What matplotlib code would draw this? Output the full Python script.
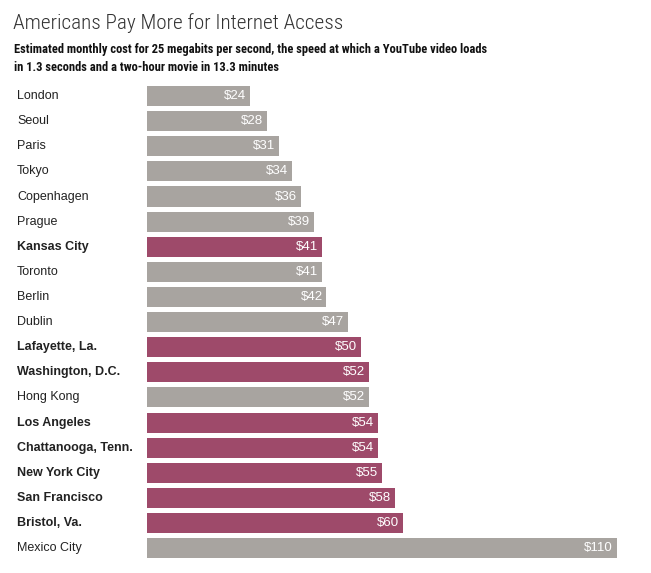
import matplotlib
matplotlib.use("Agg")
import matplotlib.pyplot as plt
import matplotlib.transforms as mtransforms

cities = ["London", "Seoul", "Paris", "Tokyo", "Copenhagen", "Prague",
          "Kansas City", "Toronto", "Berlin", "Dublin", "Lafayette, La.",
          "Washington, D.C.", "Hong Kong", "Los Angeles", "Chattanooga, Tenn.",
          "New York City", "San Francisco", "Bristol, Va.", "Mexico City"]
costs = [24, 28, 31, 34, 36, 39, 41, 41, 42, 47, 50, 52, 52, 54, 54, 55, 58, 60, 110]
is_us = [False, False, False, False, False, False, True, False, False, False, True,
         True, False, True, True, True, True, True, False]

GRAY = "#a8a4a0"
PURPLE = "#9e4a6a"
COND = ["Roboto Condensed", "Liberation Sans"]

W, H = 651, 573
fig = plt.figure(figsize=(W / 100, H / 100), dpi=100)

# axes spans bar area: x 147..617 px, rows centred at 95 + 25.1*i
top_px, bot_px = 83.5, 560.7
ax = fig.add_axes([147 / W, 1 - bot_px / H, 470 / W, (bot_px - top_px) / H])
n = len(cities)
ys = list(range(n))
colors = [PURPLE if u else GRAY for u in is_us]
ax.barh(ys, costs, height=0.8, color=colors, edgecolor="none")
ax.set_xlim(0, 110)
ax.set_ylim(n - 0.5, -0.5)
ax.axis("off")

label_tr = mtransforms.blended_transform_factory(fig.transFigure, ax.transData)
for y, city, c, u in zip(ys, cities, costs, is_us):
    ax.text(17 / W, y, city, transform=label_tr, ha="left", va="center",
            fontsize=9, family="Liberation Sans",
            fontweight="bold" if u else "normal", color="#222222")
    ax.text(c - 0.9, y, f"${c}", ha="right", va="center", fontsize=9.5,
            family="Liberation Sans", color="white")

fig.text(13 / W, 1 - 23 / H, "Americans Pay More for Internet Access",
         ha="left", va="center", fontsize=15.3, family=COND,
         fontweight="light", color="#333333")
fig.text(14 / W, 1 - 49 / H,
         "Estimated monthly cost for 25 megabits per second, the speed at which a YouTube video loads",
         ha="left", va="center", fontsize=9.0, family=COND,
         fontweight="bold", color="#111111")
fig.text(14 / W, 1 - 67.5 / H, "in 1.3 seconds and a two-hour movie in 13.3 minutes",
         ha="left", va="center", fontsize=9.0, family=COND,
         fontweight="bold", color="#111111")

fig.savefig("out.png", dpi=100)
